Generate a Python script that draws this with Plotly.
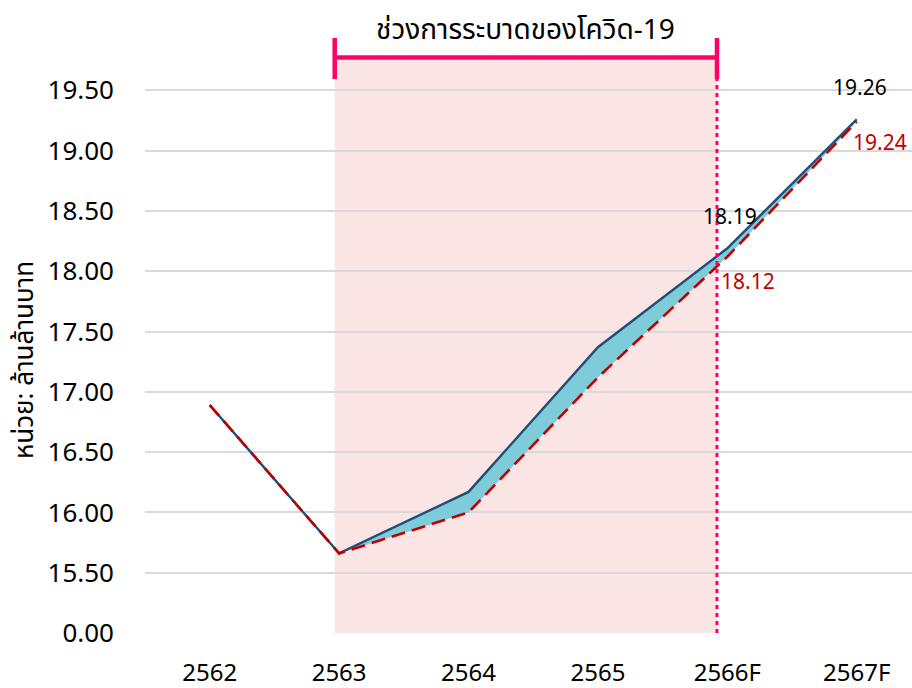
import plotly.graph_objects as go

years = ["2562", "2563", "2564", "2565", "2566F", "2567F"]
actual = [16.89, 15.66, 16.17, 17.37, 18.19, 19.26]
forecast = [16.89, 15.66, 16.00, 17.12, 18.12, 19.24]
tick_vals = [15.0, 15.5, 16.0, 16.5, 17.0, 17.5, 18.0, 18.5, 19.0, 19.5]
tick_text = ["0.00", "15.50", "16.00", "16.50", "17.00", "17.50", "18.00", "18.50", "19.00", "19.50"]
title_text = "ช่วงการระบาดของโควิด-19"
ytitle_text = "หน่วย: ล้านล้านบาท"

FONT = "Noto Sans, Tahoma, sans-serif"
THAI_FONT = "Noto Sans Thai, Noto Sans, sans-serif"
BLUE = "#1F4E79"
RED = "#C00000"
FILL = "#7ECCD9"
PINK = "#FF0066"

fig = go.Figure()
fig.add_trace(go.Scatter(x=years, y=forecast, mode="lines", line=dict(width=0), showlegend=False, hoverinfo="skip"))
fig.add_trace(go.Scatter(x=years, y=actual, mode="lines", line=dict(width=0), fill="tonexty",
                         fillcolor=FILL, showlegend=False, hoverinfo="skip"))
fig.add_trace(go.Scatter(x=years, y=actual, mode="lines", line=dict(color=BLUE, width=2.4), showlegend=False))
fig.add_trace(go.Scatter(x=years, y=forecast, mode="lines",
                         line=dict(color=RED, width=2.6, dash="14px,7px"), showlegend=False))

# shaded covid period + bracket
X0, X1 = 0.966, 3.92
fig.add_shape(type="rect", xref="x", yref="paper", x0=X0, x1=X1, y0=0, y1=0.9052,
              fillcolor="#FBE4E4", line=dict(width=0), layer="below")
fig.add_shape(type="line", xref="x", yref="paper", x0=X1, x1=X1, y0=0, y1=0.9052,
              line=dict(color=PINK, width=3, dash="4px,4px"))
fig.add_shape(type="line", xref="x", yref="paper", x0=X0, x1=X1, y0=0.9092, y1=0.9092,
              line=dict(color=PINK, width=4.5))
for xx in (X0, X1):
    fig.add_shape(type="line", xref="x", yref="paper", x0=xx, x1=xx, y0=0.8752, y1=0.94,
                  line=dict(color=PINK, width=4.5))

fig.add_annotation(text=title_text, xref="x", yref="paper", x=(X0 + X1) / 2, y=0.9526, showarrow=False,
                   font=dict(family=THAI_FONT, size=28, color="black"), xanchor="center", yanchor="middle")

# data labels
for yr, v in zip(years, actual):
    fig.add_annotation(x=yr, y=v, text=f"{v:.2f}", showarrow=False, xshift=3, yshift=32,
                       font=dict(family=FONT, size=21, color="black"))
red_offsets = [None, None, (9, -24), (28, -20), (21, -24), (23, -20)]
for off, yr, v in zip(red_offsets, years, forecast):
    if off is None:
        continue
    fig.add_annotation(x=yr, y=v, text=f"{v:.2f}", showarrow=False, xshift=off[0], yshift=off[1],
                       font=dict(family=FONT, size=21, color=RED))

fig.add_annotation(text=ytitle_text, xref="paper", yref="paper", x=-0.1565, y=0.4313, textangle=-90,
                   showarrow=False, font=dict(family=THAI_FONT, size=26, color="black"),
                   xanchor="center", yanchor="middle")

fig.update_layout(
    width=912, height=688,
    margin=dict(l=145, r=0, t=0, b=55),
    paper_bgcolor="white", plot_bgcolor="white",
    font=dict(family=FONT, color="black"),
    showlegend=False,
)
fig.update_xaxes(type="category", range=[-0.5, 5.427], showgrid=False, zeroline=False, showline=False,
                 tickfont=dict(family=FONT, size=24), ticklabelstandoff=23, automargin=False)
fig.update_yaxes(range=[15.0, 15.0 + 633 / 120.6], tickvals=tick_vals, ticktext=tick_text,
                 showgrid=True, gridcolor="#D9D9D9", gridwidth=1.5, zeroline=False, showline=False,
                 tickfont=dict(family=FONT, size=26), ticklabelstandoff=30, automargin=False)

fig.write_html("out.html", config={"displayModeBar": False},
               post_script="document.body.style.margin='0';document.body.style.overflow='hidden';")
